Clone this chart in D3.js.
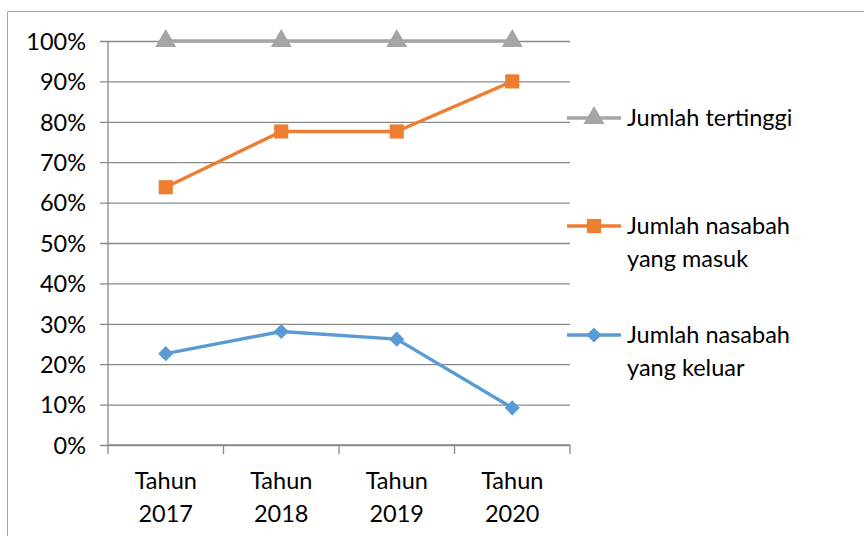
<!DOCTYPE html>
<html>
<head>
<meta charset="utf-8">
<script src="https://cdn.jsdelivr.net/npm/d3@7"></script>
<style>
  html, body { margin: 0; padding: 0; background: #fff; }
  svg { display: block; }
  text { font-family: Lato, "Open Sans", sans-serif; fill: #000; }
</style>
</head>
<body>
<svg id="chart" width="864" height="536"></svg>
<script>
// Data
const categories = ["Tahun 2017", "Tahun 2018", "Tahun 2019", "Tahun 2020"];
const seriesNames = ["Jumlah tertinggi", "Jumlah nasabah yang masuk", "Jumlah nasabah yang keluar"];
const tertinggi = [1.00, 1.00, 1.00, 1.00];
const masuk = [0.638, 0.776, 0.776, 0.900];
const keluar = [0.226, 0.281, 0.262, 0.092];
const yTicks = [0, 0.1, 0.2, 0.3, 0.4, 0.5, 0.6, 0.7, 0.8, 0.9, 1.0];

const colors = ["#A5A5A5", "#ED7D31", "#5B9BD5"];
const legendLines = [["Jumlah tertinggi"], ["Jumlah nasabah", "yang masuk"], ["Jumlah nasabah", "yang keluar"]];
const allSeries = [tertinggi, masuk, keluar];

// Marker shapes: triangle, square, diamond (square turned 45°)
const markers = [
  { type: d3.symbolTriangle, size: 190, rotate: 0 },
  { type: d3.symbolSquare, size: 200, rotate: 0 },
  { type: d3.symbolSquare, size: 115, rotate: 45 }
];
const FONT = 23.5;

const svg = d3.select("#chart");

// Outer chart frame (left and top edges visible)
svg.append("path")
  .attr("d", "M7.5,536 V11.5 H864")
  .attr("fill", "none")
  .attr("stroke", "#A6A6A6")
  .attr("stroke-width", 1);

const plot = { left: 108, right: 570, top: 41, bottom: 445 };

const x = d3.scaleBand().domain(categories).range([plot.left, plot.right]);
const y = d3.scaleLinear().domain([0, 1]).range([plot.bottom, plot.top]);

// Horizontal gridlines + y axis
const yAxis = d3.axisLeft(y).tickValues(yTicks).tickFormat(d3.format(".0%"))
  .tickSize(-(plot.right - plot.left));
const gy = svg.append("g").attr("transform", `translate(${plot.left},0)`).call(yAxis);
gy.select(".domain").remove();
gy.selectAll(".tick line")
  .attr("x1", -8)
  .attr("stroke", "#898989").attr("stroke-width", 1.3);
gy.selectAll(".tick text")
  .attr("font-size", FONT).attr("x", -22).attr("dy", "0.35em")
  .style("font-family", "Lato, 'Open Sans', sans-serif");

// Vertical axis line
svg.append("line")
  .attr("x1", plot.left).attr("x2", plot.left)
  .attr("y1", plot.top).attr("y2", plot.bottom)
  .attr("stroke", "#898989").attr("stroke-width", 1.3);

// X axis with category ticks at band boundaries
svg.append("line")
  .attr("x1", plot.left).attr("x2", plot.right)
  .attr("y1", plot.bottom).attr("y2", plot.bottom)
  .attr("stroke", "#898989").attr("stroke-width", 1.3);
const bounds = categories.map(c => x(c)).concat([plot.right]);
svg.append("g").selectAll("line").data(bounds).join("line")
  .attr("x1", d => d).attr("x2", d => d)
  .attr("y1", plot.bottom).attr("y2", plot.bottom + 9)
  .attr("stroke", "#898989").attr("stroke-width", 1.3);

// Category labels (two lines each)
const xl = svg.append("g");
categories.forEach(c => {
  const parts = c.split(" ");
  const cx = x(c) + x.bandwidth() / 2;
  const t = xl.append("text")
    .attr("x", cx)
    .attr("y", 489)
    .attr("text-anchor", "middle")
    .attr("font-size", FONT);
  t.append("tspan").attr("x", cx).text(parts[0]);
  t.append("tspan").attr("x", cx).attr("dy", 33).text(parts[1]);
});

// Series lines and markers
const line = d3.line()
  .x((d, i) => x(categories[i]) + x.bandwidth() / 2)
  .y(d => y(d));

function markerPath(m) {
  return d3.symbol().type(m.type).size(m.size)();
}

allSeries.forEach((vals, s) => {
  svg.append("path")
    .datum(vals)
    .attr("d", line)
    .attr("fill", "none")
    .attr("stroke", colors[s])
    .attr("stroke-width", 3.4)
    .attr("stroke-linejoin", "round");
  svg.append("g").selectAll("path").data(vals).join("path")
    .attr("transform", (d, i) =>
      `translate(${x(categories[i]) + x.bandwidth() / 2},${y(d)}) rotate(${markers[s].rotate})`)
    .attr("d", markerPath(markers[s]))
    .attr("fill", colors[s]);
});

// Legend
const legendY = [118, 226, 335];
legendLines.forEach((lines, s) => {
  const g = svg.append("g").attr("transform", `translate(0,${legendY[s]})`);
  g.append("line")
    .attr("x1", 567).attr("x2", 621)
    .attr("stroke", colors[s]).attr("stroke-width", 3.4);
  g.append("path")
    .attr("transform", `translate(594,0) rotate(${markers[s].rotate})`)
    .attr("d", markerPath(markers[s]))
    .attr("fill", colors[s]);
  const t = g.append("text").attr("x", 627).attr("y", 0).attr("font-size", FONT);
  lines.forEach((ln, i) => {
    t.append("tspan").attr("x", 627).attr("dy", i === 0 ? "0.35em" : 33).text(ln);
  });
});
</script>
</body>
</html>
